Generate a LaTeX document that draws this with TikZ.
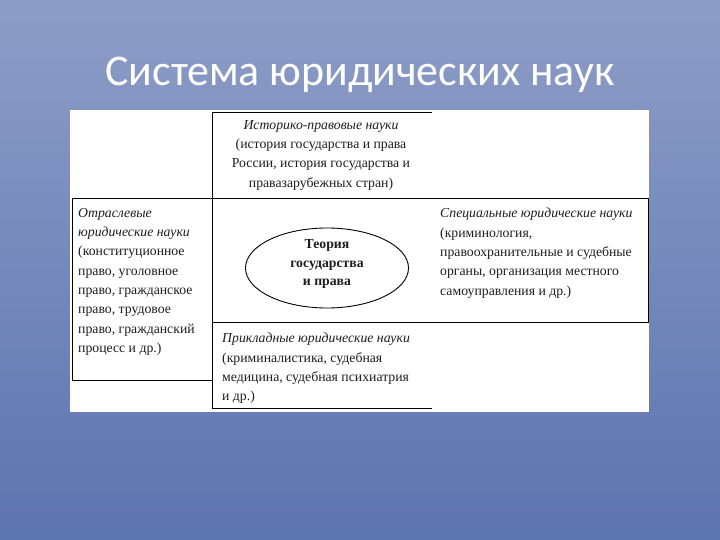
\documentclass[tikz,border=0pt]{standalone}
\usepackage{fontspec}
\setmainfont{Liberation Serif}
\newfontfamily\titlefont{Carlito}
\usetikzlibrary{shapes.geometric}
\definecolor{bgtop}{RGB}{142,157,199}
\definecolor{bgmid}{RGB}{120,140,190}
\definecolor{bgbot}{RGB}{92,116,175}
\definecolor{ink}{RGB}{30,30,30}
\begin{document}
\begin{tikzpicture}[x=1bp,y=-1bp,
  rule/.style={draw=black, line width=0.9bp},
  txt/.style={inner sep=0pt, text=ink, font=\fontsize{13.8}{19.4}\selectfont, align=left, anchor=north west},
  ctxt/.style={txt, align=center, anchor=north}]
\shade[top color=bgtop, middle color=bgmid, bottom color=bgbot] (0,0) rectangle (720,540);
\useasboundingbox (0,0) rectangle (720,540);
\node[font=\titlefont\fontsize{44}{50}\selectfont, text=white, anchor=base, inner sep=0pt] (title) at (360,86) {Система юридических наук};
\fill[white] (70,110) rectangle (649,412);
% grid lines
\draw[rule] (212,112) -- (432,112);
\draw[rule] (212,112) -- (212,408);
\draw[rule] (72,198) -- (648,198);
\draw[rule] (72,198) -- (72,380) -- (212,380);
\draw[rule] (648,198) -- (648,322) -- (212,322);
\draw[rule] (212,408) -- (432,408);
% centre
\node[draw=black, line width=0.9bp, ellipse, minimum width=163bp, minimum height=80bp, inner sep=0pt] (core) at (327,268) {};
\node[ctxt, anchor=center, font=\bfseries\fontsize{13.8}{19}\selectfont] (coretext) at (327,264) {Теория\\государства\\и права};
% boxes
\node[ctxt] (hist) at (321,120) {\textit{Историко-правовые науки}\\(история государства и права\\России, история государства и\\правазарубежных стран)};
\node[txt] (branch) at (78,208) {\textit{Отраслевые}\\\textit{юридические науки}\\(конституционное\\право, уголовное\\право, гражданское\\право, трудовое\\право, гражданский\\процесс и др.)};
\node[txt] (special) at (440,208) {\textit{Специальные юридические науки}\\(криминология,\\правоохранительные и судебные\\органы, организация местного\\самоуправления и др.)};
\node[txt] (applied) at (222,333) {\textit{Прикладные юридические науки}\\(криминалистика, судебная\\медицина, судебная психиатрия\\и др.)};
\end{tikzpicture}
\end{document}
